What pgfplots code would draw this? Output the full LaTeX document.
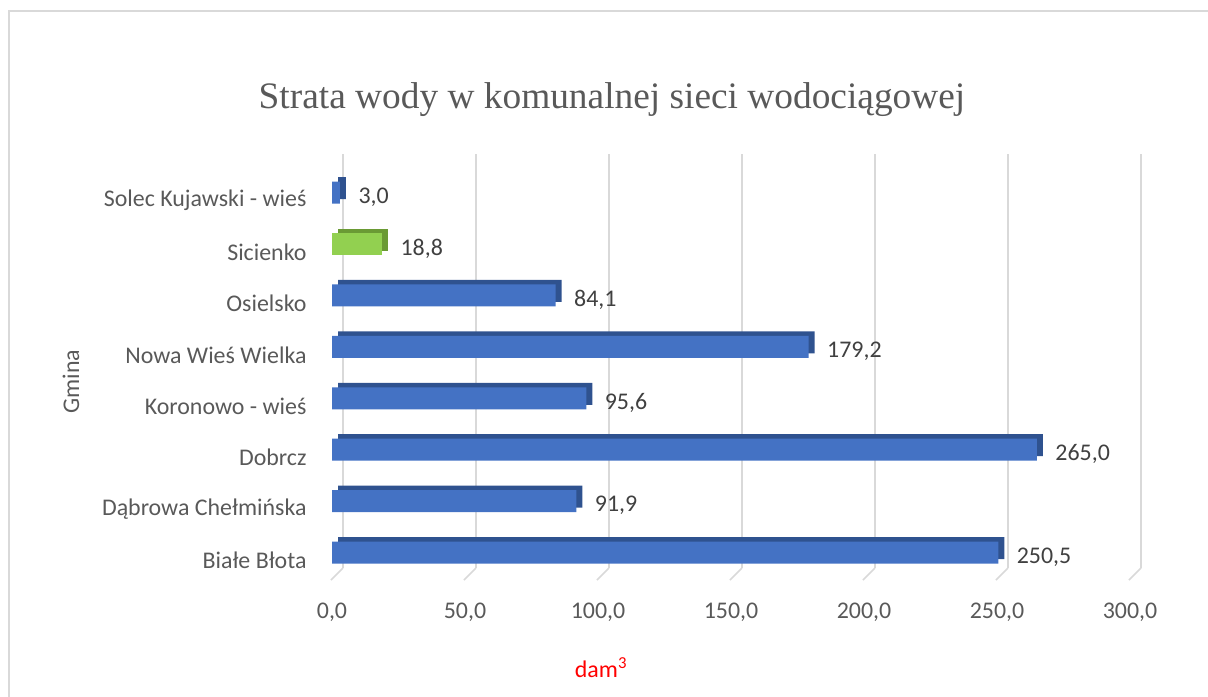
\documentclass[border=0pt]{standalone}
\usepackage{pgfplots}
\pgfplotsset{compat=1.18}
\usepackage{pgfplotstable}
\usepackage{fontspec}
\setmainfont{Carlito}
\newfontfamily\titlefont{Liberation Serif}

\definecolor{barblue}{HTML}{4472C4}
\definecolor{bardark}{HTML}{2F528F}
\definecolor{bargreen}{HTML}{92D050}
\definecolor{greendark}{HTML}{6A9A34}
\definecolor{txtgray}{HTML}{595959}
\definecolor{lblgray}{HTML}{404040}
\definecolor{gridgray}{HTML}{D9D9D9}

% idx: 0 = bottom category
\pgfplotstableread{
idx val
0 250.5
1 91.9
2 265.0
3 95.6
4 179.2
5 84.1
7 3.0
}\bluedata
\pgfplotstableread{
idx val
6 18.8
}\greendata

\begin{document}
\begin{tikzpicture}
\path[use as bounding box] (0,0) rectangle (1208bp,-697bp);
\draw[gridgray, line width=1.5bp] (9bp,-697bp) -- (9bp,-11bp) -- (1208bp,-11bp);
\node[font=\titlefont\fontsize{37.5}{42}\selectfont, text=txtgray, anchor=base]
  at (612bp,-108bp) {Strata wody w komunalnej sieci wodociągowej};

\begin{axis}[
  at={(332bp,-568bp)}, anchor=south west,
  scale only axis, width=798bp, height=414bp,
  xmin=0, xmax=300, ymin=-0.3, ymax=7.75,
  clip=false,
  axis line style={draw=none},
  major tick length=0pt,
  xtick={0,50,...,300},
  ytick={0,...,7},
  yticklabels={Białe Błota, Dąbrowa Chełmińska, Dobrcz, Koronowo - wieś,
    Nowa Wieś Wielka, Osielsko, Sicienko, Solec Kujawski - wieś},
  xmajorgrids,
  major grid style={gridgray, line width=1.5bp, xshift=11bp},
  tick label style={font=\fontsize{24}{26}\selectfont, text=txtgray},
  xticklabel style={yshift=-31bp},
  yticklabel style={xshift=-22bp, yshift=-8bp},
  /pgf/number format/.cd, use comma, fixed, fixed zerofill, precision=1,
    assume math mode=true,
  /pgfplots/.cd,
  xlabel={dam\textsuperscript{3}},
  x label style={at={(axis description cs:0.337,0)}, anchor=center,
    yshift=-100bp, font=\fontsize{24}{26}\selectfont, text=red},
  ylabel={Gmina},
  y label style={at={(axis description cs:-0.327,0.45)}, anchor=center,
    font=\fontsize{24}{26}\selectfont, text=txtgray},
  bars/.style={xbar, bar width=22bp, bar shift=0pt, draw=none},
  labels/.style={nodes near coords,
    every node near coord/.append style={anchor=west, xshift=15bp, yshift=-4.5bp,
      font=\fontsize{24}{26}\selectfont, text=lblgray}},
]
\pgfplotsinvokeforeach{0,50,100,150,200,250,300}{
  \draw[gridgray, line width=1.5bp] ([xshift=11bp]axis cs:#1,-0.3) -- ++(-12bp,-12bp);
}
% depth faces
\addplot[bars, fill=bardark, xshift=6bp, yshift=4.5bp] table[x=val, y=idx] {\bluedata};
\addplot[bars, fill=greendark, xshift=6bp, yshift=4.5bp] table[x=val, y=idx] {\greendata};
% front faces
\addplot[bars, fill=barblue, labels] table[x=val, y=idx] {\bluedata};
\addplot[bars, fill=bargreen, labels] table[x=val, y=idx] {\greendata};
\end{axis}
\end{tikzpicture}
\end{document}
